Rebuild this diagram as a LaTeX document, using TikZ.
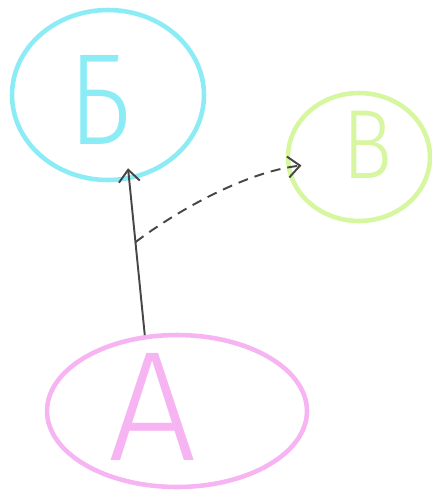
\documentclass[tikz,border=0pt]{standalone}
\usepackage{fontspec}
\setmainfont{Fira Sans Light}
\usetikzlibrary{shapes.geometric,arrows.meta}
\definecolor{bcyan}{RGB}{140,236,245}
\definecolor{vgreen}{RGB}{214,246,160}
\definecolor{apink}{RGB}{247,180,242}
\definecolor{pencil}{RGB}{70,70,70}

\begin{document}
\begin{tikzpicture}[x=0.02cm,y=-0.02cm,
    blob/.style={ellipse,line width=2.6pt,inner sep=0pt},
    letter/.style={inner sep=0pt},
    arr/.style={pencil,line width=1.1pt,-{Straight Barb[length=2.4mm,width=4.2mm]}}]
  \useasboundingbox (0,0) rectangle (432,491);

  % Circles
  \node[blob,draw=bcyan,minimum width=3.84cm,minimum height=3.4cm] (b) at (108,95) {};
  \node[blob,draw=vgreen,minimum width=2.84cm,minimum height=2.56cm] (v) at (359,157) {};
  \node[blob,draw=apink,minimum width=5.2cm,minimum height=3.04cm] (a) at (177,411) {};

  % Letters
  \node[letter,text=bcyan,font=\fontsize{74}{74}\selectfont,xscale=0.85] (b-txt) at (100,100) {Б};
  \node[letter,text=vgreen,font=\fontsize{56}{56}\selectfont,xscale=0.85] (v-txt) at (368,145) {В};
  \node[letter,text=apink,font=\fontsize{89}{89}\selectfont] (a-txt) at (153,407) {А};

  % Arrows
  \draw[arr,shorten >=-0.24cm] (a.113) -- (b.-76);
  \path (a.113) -- (b.-76) coordinate[pos=0.6] (fork);
  \draw[arr,dashed,dash pattern=on 5.7pt off 4pt,shorten >=-0.3cm]
    (fork) .. controls (175,212) and (245,172) .. (v.188);
\end{tikzpicture}
\end{document}
